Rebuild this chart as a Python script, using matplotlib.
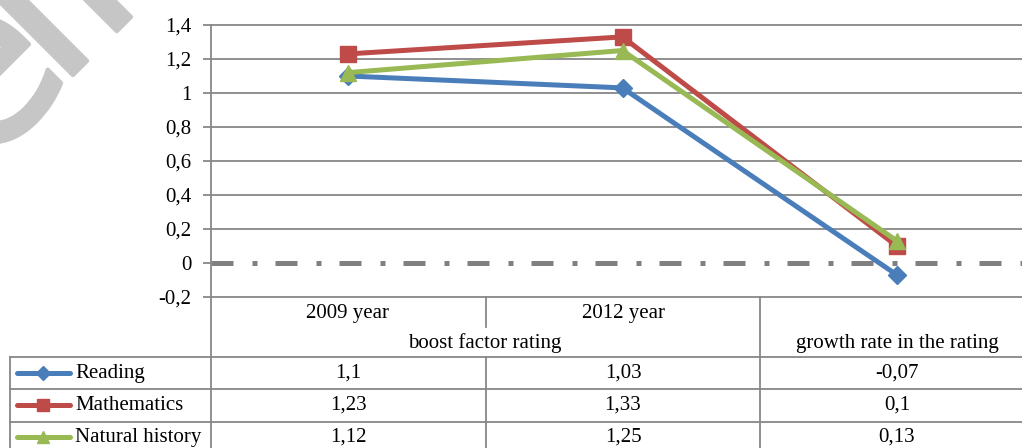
import matplotlib
matplotlib.use("Agg")
import matplotlib.pyplot as plt
import matplotlib.patheffects as pe
from matplotlib.lines import Line2D
from matplotlib.ticker import FuncFormatter, MultipleLocator

# data
periods = ["2009 year", "2012 year", ""]
groups = [("boost factor rating", 0, 1), ("growth rate in the rating", 2, 2)]
series = ["Reading", "Mathematics", "Natural history"]
reading = [1.1, 1.03, -0.07]
mathematics = [1.23, 1.33, 0.1]
natural = [1.12, 1.25, 0.13]
values = [reading, mathematics, natural]
colors = ["#4a7ebb", "#be4b48", "#98b954"]
markers = ["D", "s", "^"]
msizes = [9.5, 11, 11]

W, H = 1022, 448
GRID = "#878787"
FS = 15
WM = "#c6c6c6"

plt.rcParams["font.family"] = "serif"
plt.rcParams["font.serif"] = ["Liberation Serif", "DejaVu Serif"]

def fx(x):
    return x / W

def fy(y):
    return 1 - y / H

fig = plt.figure(figsize=(W / 100, H / 100), dpi=100)

# watermark (partly off the page, as in the source image)
wm_kw = dict(rotation=45, rotation_mode="anchor", fontsize=161, color=WM,
             family="DejaVu Sans", ha="left", va="baseline", zorder=0,
             path_effects=[pe.withStroke(linewidth=3, foreground=WM)])
fig.text(fx(-20), fy(173), "e", **wm_kw)
fig.text(fx(58), fy(90), "ll", **wm_kw)

# plot area: x 211..1034 px, y 25..297 px
ax = fig.add_axes([fx(211), fy(297), (1034 - 211) / W, (297 - 25) / H])
ax.patch.set_alpha(0)
ax.set_xlim(-0.5, 2.5)
ax.set_ylim(-0.2, 1.4)
for s in ax.spines.values():
    s.set_visible(False)

ax.yaxis.set_major_locator(MultipleLocator(0.2))
ax.yaxis.set_major_formatter(FuncFormatter(lambda v, p: f"{round(v, 2):g}".replace(".", ",")))
ax.tick_params(axis="y", length=6, width=1.3, color=GRID, labelsize=FS, pad=8)
ax.set_xticks([])

for t in [-0.2, 0.2, 0.4, 0.6, 0.8, 1.0, 1.2, 1.4]:
    ax.axhline(t, color=GRID, lw=1.3, zorder=1, clip_on=False)

zero = ax.axhline(0, color="#808080", lw=3.6, zorder=2)
zero.set_dashes([4.4, 3.8, 1.0, 3.6])
zero.set_dash_capstyle("butt")

x = list(range(len(periods)))
for vals, c, m, ms in zip(values, colors, markers, msizes):
    ax.plot(x, vals, color=c, lw=3.6, marker=m, markersize=ms, zorder=3,
            solid_capstyle="round", solid_joinstyle="round")

# table lines
def hline(y, x0, x1):
    fig.add_artist(Line2D([fx(x0), fx(x1)], [fy(y), fy(y)], color=GRID, lw=1.3))

def vline(x, y0, y1):
    fig.add_artist(Line2D([fx(x), fx(x)], [fy(y0), fy(y1)], color=GRID, lw=1.3))

vline(211, 25, 448)
vline(486, 297, 327)
vline(486, 357, 448)
vline(760, 297, 448)
vline(10, 357, 448)
for yy in [357, 389, 422]:
    hline(yy, 10, 1022)

col_cx = [348, 623, 897]
for p, cx in zip(periods, col_cx):
    if p:
        fig.text(fx(cx), fy(313), p, ha="center", va="center", fontsize=FS)
group_cx = {0: 485, 2: 897}
for name, i0, i1 in groups:
    fig.text(fx(group_cx[i0]), fy(343), name, ha="center", va="center", fontsize=FS)

row_cy = [373, 405, 437]
for name, vals, c, m, ms, cy in zip(series, values, colors, markers, msizes, row_cy):
    fig.add_artist(Line2D([fx(17), fx(70)], [fy(cy), fy(cy)], color=c, lw=3.6,
                          solid_capstyle="round"))
    fig.add_artist(Line2D([fx(43)], [fy(cy)], color=c, marker=m, markersize=ms * 0.75, lw=0))
    fig.text(fx(75), fy(cy), name, ha="left", va="center", fontsize=FS)
    for v, cx in zip(vals, col_cx):
        fig.text(fx(cx), fy(cy), f"{v:g}".replace(".", ","), ha="center", va="center", fontsize=FS)

fig.savefig("out.png", dpi=100)
